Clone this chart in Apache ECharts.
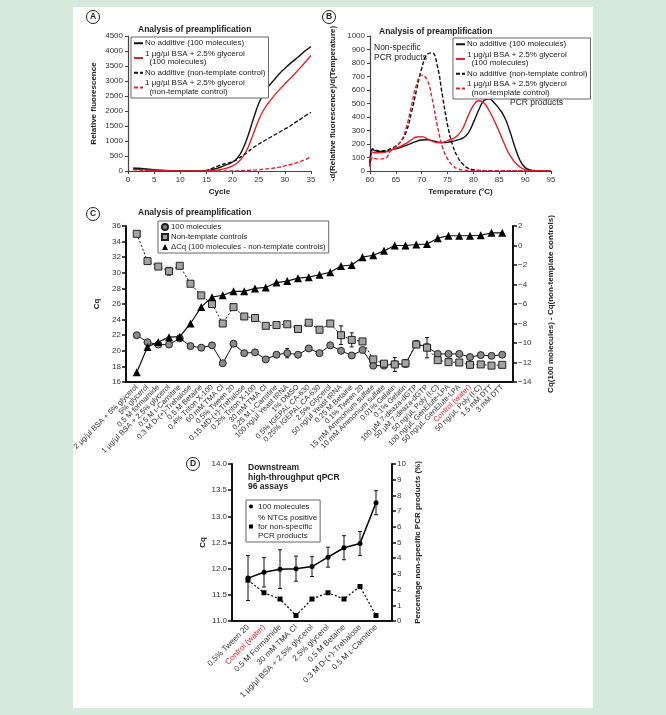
<!DOCTYPE html>
<html>
<head>
<meta charset="utf-8">
<script src="https://cdn.jsdelivr.net/npm/echarts@6/dist/echarts.min.js"></script>
<style>
  html, body { margin: 0; padding: 0; background: #d5eadc; }
  #main { width: 666px; height: 715px; }
</style>
</head>
<body>
<div id="main"></div>
<script>
// ---- panel A: amplification curves ----
const aCycles = [1,2,3,4,5,6,7,8,9,10,11,12,13,14,15,16,17,18,19,20,21,22,23,24,25,26,27,28,29,30,31,32,33,34,35];
const aNoAddMol = [100,90,75,60,45,30,20,10,5,0,0,0,0,0,10,40,90,150,220,300,450,750,1200,1750,2250,2600,2850,3050,3250,3420,3580,3720,3870,4020,4150];
const aBsaMol = [50,45,40,30,25,20,10,5,0,0,0,0,0,0,0,10,30,60,100,170,280,480,800,1250,1700,2050,2300,2520,2720,2900,3080,3260,3450,3650,3850];
const aNoAddNtc = [60,55,45,35,25,15,10,5,0,0,0,0,0,0,20,80,150,220,260,310,400,520,650,780,900,1000,1100,1200,1300,1400,1500,1620,1730,1850,1950];
const aBsaNtc = [40,35,30,25,20,15,10,5,0,0,0,0,0,0,0,0,0,0,0,0,5,10,20,30,45,60,80,100,130,170,210,260,320,390,470];

// ---- panel B: melting curves ----
const bTemp = [60,60.5,61,62,63,64,65,66,67,68,69,70,71,72,73,74,75,76,77,78,79,80,81,82,83,84,85,86,87,88,89,90,91,92,93,94,95];
const bNoAddMol = [40,160,150,145,145,155,165,175,190,205,220,230,232,225,215,210,212,220,230,245,280,360,450,520,535,505,460,400,300,180,80,25,8,3,2,2,2];
const bBsaMol = [40,140,135,135,140,155,170,185,205,230,252,255,240,222,210,212,225,240,265,320,410,485,520,505,450,375,290,200,120,65,30,10,3,2,2,2,2];
const bNoAddNtc = [60,165,155,150,150,165,185,220,290,430,600,760,860,875,780,560,340,190,100,50,20,10,5,3,3,3,3,3,3,3,3,3,3,3,3,3,3];
const bBsaNtc = [30,100,92,90,95,150,180,220,320,480,640,710,680,540,340,180,90,40,15,8,3,3,3,3,3,3,3,3,3,3,3,3,3,3,3,3,3];

const lineNames = [
  'No additive (100 molecules)',
  '1 µg/µl BSA + 2.5% glycerol\n  (100 molecules)',
  'No additive (non-template control)',
  '1 µg/µl BSA + 2.5% glycerol\n  (non-template control)'
];

// ---- panel C: additives ----
const cCats = [
  '2 µg/µl BSA + 5% glycerol', '5% glycerol', '0.5 M formamide', '1 µg/µl BSA + 2.5% glycerol',
  '0.5 M ʟ-Carnitine', '0.3 M D-(+)-Trehalose', '0.5 M Betaine', '0.4% Triton X-100', '60 mM TMA Cl',
  '0.5% Tween 20', '0.15 MD-(+)-Trehalose', '0.2% Triton X-100', '30 mM TMA Cl', '0.25 M ʟ-Carnitine',
  '100 ng/µl Yeast tRNA', '1% DMSO', '0.5% IGEPAL CA-630', '0.25% IGEPAL CA-630', '2.5% Glycerol',
  '50 ng/µl Yeast tRNA', '0.25 M Betaine', '0.1% Tween 20', '15 mM Ammonium sulfate',
  '10 mM Ammonium sulfate', '0.01% Gelatin', '0.1% Gelatin', '100 µM 7-deaza-dGTP', '50 µM 7-deaza-dGTP',
  '50 ng/µL Poly (I:C)', '100 ng/µL GenElute-LPA', '50 ng/µL GenElute-LPA', 'Control (water)',
  '50 ng/µL Poly (I:C)', '1.5 mM DTT', '3 mM DTT'
];
const cCircle = [22.0,21.1,20.8,20.8,21.6,20.6,20.4,20.7,18.4,20.9,19.7,19.8,18.9,19.5,19.7,19.5,20.3,19.7,20.7,20.0,19.4,20.1,18.1,18.1,18.3,18.3,20.9,20.5,19.6,19.6,19.6,19.2,19.45,19.35,19.5];
const cCircleErr = [0,0,0,0,0,0,0,0,0,0,0,0,0,0,0.6,0,0,0,0,0,0.3,0,0,0,0,0,0,0,0,0,0,0.3,0,0,0];
const cSquare = [35.0,31.5,30.8,30.2,30.9,28.6,27.1,26.0,23.5,25.6,24.4,24.2,23.2,23.3,23.4,22.8,23.6,22.7,23.5,22.0,21.4,21.2,18.9,18.35,18.25,18.4,20.8,20.4,18.8,18.55,18.5,18.2,18.25,18.1,18.2];
const cSquareErr = [0,0.4,0,0.5,0,0,0,0,0.3,0,0,0,0,0,0,0.4,0,0,0,1.2,0.9,0,0.3,0,0.9,0.45,0,1.3,0,0,0,0.3,0,0,0];
const cDelta = [-13.0,-10.4,-9.9,-9.4,-9.35,-8.0,-6.3,-5.3,-5.1,-4.7,-4.7,-4.4,-4.3,-3.8,-3.65,-3.35,-3.25,-3.0,-2.75,-2.1,-2.0,-1.2,-1.0,-0.55,0.0,0.0,0.1,0.15,0.75,1.0,1.0,1.0,1.05,1.3,1.3];

// ---- panel D: downstream qPCR ----
const dCats = ['0.5% Tween 20', 'Control (water)', '0.5 M Formamide', '30 mM TMA Cl',
  '1 µg/µl BSA + 2.5% glycerol', '2.5% glycerol', '0.5 M Betaine', '0.3 M D-(+)-Trehalose', '0.5 M ʟ-Carnitine'];
const dCq = [11.82,11.93,11.99,12.0,12.04,12.22,12.4,12.48,13.26];
const dCqErr = [0.43,0.28,0.37,0.24,0.19,0.19,0.23,0.23,0.23];
const dNtc = [2.6,1.8,1.4,0.35,1.4,1.8,1.4,2.2,0.35];

const FONT = 'Liberation Sans, Arial, Helvetica, sans-serif';
const RED = '#e8202a';
const TXT = '#333';

const chart = echarts.init(document.getElementById('main'));

// pad the category axes so points sit one step inside the frame
function padCats(list) {
  const out = [''];
  list.forEach(c => out.push(c === 'Control (water)' ? { value: c, textStyle: { color: RED } } : c));
  out.push('');
  return out;
}
function pairs(vals) { return vals.map((v, i) => [i + 1, v]); }
function errData(vals, errs) {
  const out = [];
  vals.forEach((v, i) => { if (errs[i] > 0) out.push([i + 1, v - errs[i], v + errs[i]]); });
  return out;
}
function errRender(params, api) {
  const lo = api.coord([api.value(0), api.value(1)]);
  const hi = api.coord([api.value(0), api.value(2)]);
  const w = 2;
  const st = { stroke: '#111', lineWidth: 1 };
  return { type: 'group', children: [
    { type: 'line', shape: { x1: lo[0], y1: lo[1], x2: hi[0], y2: hi[1] }, style: st },
    { type: 'line', shape: { x1: lo[0] - w, y1: lo[1], x2: lo[0] + w, y2: lo[1] }, style: st },
    { type: 'line', shape: { x1: hi[0] - w, y1: hi[1], x2: hi[0] + w, y2: hi[1] }, style: st }
  ] };
}

const thinAxis = { onZero: false, lineStyle: { color: '#444', width: 1.2 } };
const thinTick = { show: true, inside: false, length: 3, lineStyle: { color: '#444' } };
const lbl = { fontSize: 8, color: TXT, fontFamily: FONT, margin: 5, formatter: v => String(v) };
const thickAxis = { onZero: false, lineStyle: { color: '#111', width: 2 } };
const thickTick = { show: true, inside: false, length: 4, lineStyle: { color: '#111', width: 1.5 } };
const nameStyle = { fontSize: 8, fontWeight: 'bold', color: '#222', fontFamily: FONT };

function circled(x, y, ch) {
  return [
    { type: 'circle', shape: { cx: x, cy: y, r: 6.5 }, style: { fill: '#fff', stroke: '#222', lineWidth: 1 } },
    { type: 'text', x: x, y: y, style: { text: ch, fill: '#222', font: 'bold 8.5px ' + FONT, align: 'center', verticalAlign: 'middle' } }
  ];
}

const lineLegend = {
  orient: 'vertical', itemGap: 2, itemWidth: 9, itemHeight: 7, padding: [2, 3, 2, 2],
  borderColor: '#666', borderWidth: 1, backgroundColor: '#fff', selectedMode: false,
  itemStyle: { color: 'rgba(0,0,0,0)', borderWidth: 0, opacity: 0 },
  textStyle: { fontSize: 8, color: '#222', lineHeight: 8.5, padding: [0, 0, 0, -3] }, data: lineNames
};

const option = {
  backgroundColor: '#d5eadc',
  animation: false,
  textStyle: { fontFamily: FONT },
  graphic: [
    { type: 'rect', shape: { x: 73, y: 7, width: 520, height: 701 }, style: { fill: '#fff' }, z: -10 },
    ...circled(93, 17, 'A'), ...circled(329, 17, 'B'), ...circled(93, 214, 'C'), ...circled(193, 464, 'D'),
    { type: 'text', x: 374, y: 43, style: { text: 'Non-specific\nPCR products', fill: '#222', font: '8.5px ' + FONT, lineHeight: 10 } },
    { type: 'text', x: 510, y: 98, style: { text: 'PCR products', fill: '#222', font: '8.5px ' + FONT } },
    { type: 'text', x: 248, y: 463, style: { text: 'Downstream\nhigh-throughput qPCR\n96 assays', fill: '#222', font: 'bold 8.5px ' + FONT, lineHeight: 9.5 } }
  ],
  title: [
    { text: 'Analysis of preamplification', left: 138, top: 25, padding: 0, textStyle: { fontSize: 8.5, fontWeight: 'bold', color: '#222' } },
    { text: 'Analysis of preamplification', left: 379, top: 27, padding: 0, textStyle: { fontSize: 8.5, fontWeight: 'bold', color: '#222' } },
    { text: 'Analysis of preamplification', left: 138, top: 208, padding: 0, textStyle: { fontSize: 8.5, fontWeight: 'bold', color: '#222' } }
  ],
  legend: [
    Object.assign({ left: 131, top: 37 }, lineLegend),
    Object.assign({ left: 453, top: 38 }, lineLegend),
    { left: 158, top: 221, orient: 'vertical', itemGap: 2, itemWidth: 6, itemHeight: 6, padding: [2, 3, 2, 3],
      borderColor: '#666', borderWidth: 1, backgroundColor: '#fff', selectedMode: false,
      textStyle: { fontSize: 7.8, color: '#222', padding: [0, 0, 0, -2] },
      data: [
        { name: '100 molecules', icon: 'circle' },
        { name: 'Non-template controls', icon: 'rect' },
        { name: 'ΔCq (100 molecules - non-template controls)', icon: 'triangle' }
      ] },
    { left: 246, top: 500, orient: 'vertical', itemGap: 2, itemWidth: 4, itemHeight: 4, padding: [2, 3, 2, 3],
      borderColor: '#666', borderWidth: 1, backgroundColor: '#fff', selectedMode: false,
      textStyle: { fontSize: 8, color: '#222', lineHeight: 9 },
      data: [
        { name: '100 molecules', icon: 'circle', itemStyle: { color: '#000', borderWidth: 0 } },
        { name: '% NTCs positive\nfor non-specific\nPCR products', icon: 'rect' }
      ] }
  ],
  grid: [
    { left: 128, top: 36, width: 183, height: 135 },
    { left: 370, top: 36, width: 181, height: 135 },
    { left: 126, top: 226, width: 387, height: 156 },
    { left: 232, top: 464, width: 160, height: 157 }
  ],
  xAxis: [
    { gridIndex: 0, type: 'value', min: 0, max: 35, interval: 5, name: 'Cycle', nameLocation: 'middle', nameGap: 17,
      nameTextStyle: nameStyle, axisLine: thinAxis, axisTick: thinTick, axisLabel: lbl, splitLine: { show: false } },
    { gridIndex: 1, type: 'value', min: 60, max: 95, interval: 5, name: 'Temperature (°C)', nameLocation: 'middle', nameGap: 17,
      nameTextStyle: nameStyle, axisLine: thinAxis, axisTick: thinTick, axisLabel: lbl, splitLine: { show: false } },
    { gridIndex: 2, type: 'category', boundaryGap: false, data: padCats(cCats),
      axisLine: thickAxis, axisTick: { show: false },
      axisLabel: { fontSize: 7.5, color: TXT, rotate: 45, interval: 0, margin: 4 } },
    { gridIndex: 3, type: 'category', boundaryGap: false, data: padCats(dCats),
      axisLine: thickAxis, axisTick: { show: false },
      axisLabel: { fontSize: 8, color: TXT, rotate: 45, interval: 0, margin: 5 } }
  ],
  yAxis: [
    { gridIndex: 0, type: 'value', min: 0, max: 4500, interval: 500, name: 'Relative fluorescence', nameLocation: 'middle', nameGap: 30,
      nameTextStyle: nameStyle, axisLine: Object.assign({ show: true }, thinAxis), axisTick: thinTick, axisLabel: lbl, splitLine: { show: false } },
    { gridIndex: 1, type: 'value', min: 0, max: 1000, interval: 100, name: '-d(Relative fluorescence)/d(Temperature)', nameLocation: 'middle', nameGap: 33,
      nameTextStyle: nameStyle, axisLine: Object.assign({ show: true }, thinAxis), axisTick: thinTick, axisLabel: lbl, splitLine: { show: false } },
    { gridIndex: 2, type: 'value', min: 16, max: 36, interval: 2, name: 'Cq', nameLocation: 'middle', nameGap: 17,
      nameTextStyle: nameStyle, axisLine: Object.assign({ show: true }, thickAxis), axisTick: thickTick, axisLabel: lbl, splitLine: { show: false } },
    { gridIndex: 2, type: 'value', position: 'right', min: -14, max: 2, interval: 2,
      name: 'Cq(100 molecules) - Cq(non-template controls)', nameLocation: 'middle', nameGap: 34,
      nameTextStyle: nameStyle, axisLine: Object.assign({ show: true }, thickAxis), axisTick: thickTick,
      axisLabel: Object.assign({}, lbl, { formatter: v => String(v).replace('-', '\u2212') }), splitLine: { show: false } },
    { gridIndex: 3, type: 'value', min: 11, max: 14, interval: 0.5, name: 'Cq', nameLocation: 'middle', nameGap: 25,
      nameTextStyle: nameStyle, axisLine: Object.assign({ show: true }, thickAxis), axisTick: thickTick,
      axisLabel: Object.assign({}, lbl, { formatter: v => v.toFixed(1) }), splitLine: { show: false } },
    { gridIndex: 3, type: 'value', position: 'right', min: 0, max: 10, interval: 1,
      name: 'Percentage non-specific PCR products (%)', nameLocation: 'middle', nameGap: 22,
      nameTextStyle: nameStyle, axisLine: Object.assign({ show: true }, thickAxis), axisTick: thickTick, axisLabel: lbl, splitLine: { show: false } }
  ],
  series: [
    // A
    { name: lineNames[0], type: 'line', xAxisIndex: 0, yAxisIndex: 0, symbol: 'none', smooth: true,
      lineStyle: { color: '#111', width: 1.4 }, itemStyle: { color: '#111' }, data: aCycles.map((c, i) => [c, aNoAddMol[i]]) },
    { name: lineNames[1], type: 'line', xAxisIndex: 0, yAxisIndex: 0, symbol: 'none', smooth: true,
      lineStyle: { color: RED, width: 1.4 }, itemStyle: { color: RED }, data: aCycles.map((c, i) => [c, aBsaMol[i]]) },
    { name: lineNames[2], type: 'line', xAxisIndex: 0, yAxisIndex: 0, symbol: 'none', smooth: true,
      lineStyle: { color: '#111', width: 1.4, type: [4, 2] }, itemStyle: { color: '#111' }, data: aCycles.map((c, i) => [c, aNoAddNtc[i]]) },
    { name: lineNames[3], type: 'line', xAxisIndex: 0, yAxisIndex: 0, symbol: 'none', smooth: true,
      lineStyle: { color: RED, width: 1.4, type: [4, 2] }, itemStyle: { color: RED }, data: aCycles.map((c, i) => [c, aBsaNtc[i]]) },
    // B
    { name: lineNames[0], type: 'line', xAxisIndex: 1, yAxisIndex: 1, symbol: 'none', smooth: true,
      lineStyle: { color: '#111', width: 1.4 }, itemStyle: { color: '#111' }, data: bTemp.map((t, i) => [t, bNoAddMol[i]]) },
    { name: lineNames[1], type: 'line', xAxisIndex: 1, yAxisIndex: 1, symbol: 'none', smooth: true,
      lineStyle: { color: RED, width: 1.4 }, itemStyle: { color: RED }, data: bTemp.map((t, i) => [t, bBsaMol[i]]) },
    { name: lineNames[2], type: 'line', xAxisIndex: 1, yAxisIndex: 1, symbol: 'none', smooth: true,
      lineStyle: { color: '#111', width: 1.4, type: [4, 2] }, itemStyle: { color: '#111' }, data: bTemp.map((t, i) => [t, bNoAddNtc[i]]) },
    { name: lineNames[3], type: 'line', xAxisIndex: 1, yAxisIndex: 1, symbol: 'none', smooth: true,
      lineStyle: { color: RED, width: 1.4, type: [4, 2] }, itemStyle: { color: RED }, data: bTemp.map((t, i) => [t, bBsaNtc[i]]) },
    // C
    { type: 'custom', xAxisIndex: 2, yAxisIndex: 2, renderItem: errRender, data: errData(cCircle, cCircleErr), z: 1 },
    { type: 'custom', xAxisIndex: 2, yAxisIndex: 2, renderItem: errRender, data: errData(cSquare, cSquareErr), z: 1 },
    { name: '100 molecules', type: 'line', xAxisIndex: 2, yAxisIndex: 2, symbol: 'circle', symbolSize: 7, z: 3,
      lineStyle: { color: '#111', width: 1 }, itemStyle: { color: '#8a8a8a', borderColor: '#222', borderWidth: 1 },
      data: pairs(cCircle) },
    { name: 'Non-template controls', type: 'line', xAxisIndex: 2, yAxisIndex: 2, symbol: 'rect', symbolSize: 7, z: 3,
      lineStyle: { color: '#111', width: 1, type: [2, 2] }, itemStyle: { color: '#a3a3a3', borderColor: '#222', borderWidth: 1 },
      data: pairs(cSquare) },
    { name: 'ΔCq (100 molecules - non-template controls)', type: 'line', xAxisIndex: 2, yAxisIndex: 3, symbol: 'triangle', symbolSize: 8, z: 4,
      lineStyle: { color: '#111', width: 1.2 }, itemStyle: { color: '#000' },
      data: pairs(cDelta) },
    // D
    { type: 'custom', xAxisIndex: 3, yAxisIndex: 4, renderItem: errRender, data: errData(dCq, dCqErr), z: 1 },
    { name: '100 molecules', type: 'line', xAxisIndex: 3, yAxisIndex: 4, symbol: 'circle', symbolSize: 5, z: 3,
      lineStyle: { color: '#000', width: 1.5 }, itemStyle: { color: '#000' }, data: pairs(dCq) },
    { name: '% NTCs positive\nfor non-specific\nPCR products', type: 'line', xAxisIndex: 3, yAxisIndex: 5, symbol: 'rect', symbolSize: 5, z: 3,
      lineStyle: { color: '#000', width: 1.2, type: [2, 2] }, itemStyle: { color: '#000' }, data: pairs(dNtc) }
  ]
};

chart.setOption(option);
</script>
</body>
</html>
